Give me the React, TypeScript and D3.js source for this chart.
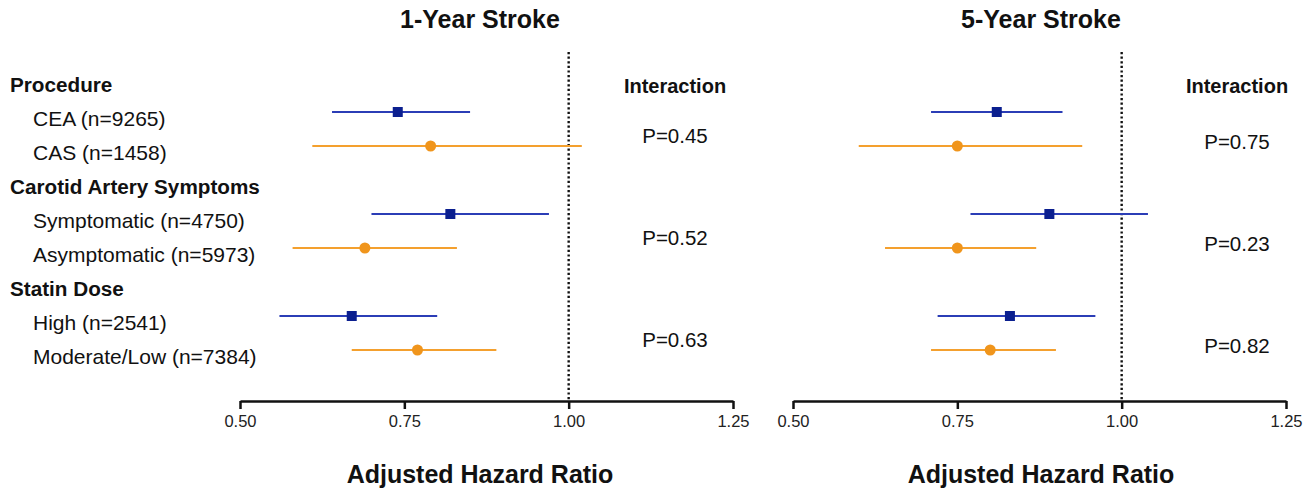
import React, { useEffect, useRef } from 'react';
import * as d3 from 'd3';

// subgroup rows (headers + members), top to bottom
const groupHeaders = ['Procedure', 'Carotid Artery Symptoms', 'Statin Dose'];
const subgroups = [
  'CEA (n=9265)',
  'CAS (n=1458)',
  'Symptomatic (n=4750)',
  'Asymptomatic (n=5973)',
  'High (n=2541)',
  'Moderate/Low (n=7384)',
];

// 1-year stroke
const oneYearHR = [0.74, 0.79, 0.82, 0.69, 0.67, 0.77];
const oneYearLow = [0.64, 0.61, 0.70, 0.58, 0.56, 0.67];
const oneYearHigh = [0.85, 1.02, 0.97, 0.83, 0.80, 0.89];
const oneYearP = ['P=0.45', 'P=0.52', 'P=0.63'];

// 5-year stroke
const fiveYearHR = [0.81, 0.75, 0.89, 0.75, 0.83, 0.80];
const fiveYearLow = [0.71, 0.60, 0.77, 0.64, 0.72, 0.71];
const fiveYearHigh = [0.91, 0.94, 1.04, 0.87, 0.96, 0.90];
const fiveYearP = ['P=0.75', 'P=0.23', 'P=0.82'];

const xTicks = [0.5, 0.75, 1.0, 1.25];

const W = 1315;
const H = 491;
const FONT = '"Liberation Sans", Arial, Helvetica, sans-serif';

const BLUE_LINE = '#2b3db6';
const BLUE_MARK = '#0b1f8f';
const ORANGE_LINE = '#f4a02e';
const ORANGE_MARK = '#f0951c';

export default function App() {
  const ref = useRef<SVGSVGElement | null>(null);

  useEffect(() => {
    const svg = d3.select(ref.current);
    svg.selectAll('*').remove();

    // rows: header, a, b, header, a, b, header, a, b
    const rowIds = d3.range(9);
    const y = d3.scalePoint<number>().domain(rowIds).range([78, 350]);
    const subRow = (i: number) => Math.floor(i / 2) * 3 + 1 + (i % 2);

    // left-side labels
    const labels = svg.append('g').attr('font-family', FONT).attr('fill', '#111');
    groupHeaders.forEach((g, i) => {
      labels.append('text')
        .attr('x', 10)
        .attr('y', y(i * 3)! + 14)
        .attr('font-size', 20.7)
        .attr('font-weight', 'bold')
        .text(g);
    });
    subgroups.forEach((s, i) => {
      labels.append('text')
        .attr('x', 33)
        .attr('y', y(subRow(i))! + 14)
        .attr('font-size', 21)
        .text(s);
    });

    const panels = [
      { title: '1-Year Stroke', range: [240, 733], center: 480, pX: 675, pOff: 14,
        hr: oneYearHR, lo: oneYearLow, hi: oneYearHigh, p: oneYearP },
      { title: '5-Year Stroke', range: [793, 1286], center: 1041, pX: 1237, pOff: 20,
        hr: fiveYearHR, lo: fiveYearLow, hi: fiveYearHigh, p: fiveYearP },
    ];

    panels.forEach(panel => {
      const x = d3.scaleLinear().domain([0.5, 1.25]).range(panel.range);
      const g = svg.append('g');
      const axisY = 401;

      // title
      g.append('text')
        .attr('x', panel.center)
        .attr('y', 28)
        .attr('text-anchor', 'middle')
        .attr('font-family', FONT)
        .attr('font-size', 25)
        .attr('font-weight', 'bold')
        .attr('fill', '#111')
        .text(panel.title);

      // reference line at HR = 1
      g.append('line')
        .attr('x1', x(1)).attr('x2', x(1))
        .attr('y1', 52).attr('y2', axisY)
        .attr('stroke', '#111')
        .attr('stroke-width', 2.4)
        .attr('stroke-dasharray', '2.2,2.4');

      // axis
      const axis = g.append('g')
        .attr('transform', `translate(0,${axisY})`)
        .call(d3.axisBottom(x).tickValues(xTicks).tickFormat(d3.format('.2f')).tickSizeInner(8).tickSizeOuter(0).tickPadding(6));
      axis.select('.domain').attr('stroke', '#111').attr('stroke-width', 2.5);
      axis.selectAll('.tick line').attr('stroke', '#111').attr('stroke-width', 2.5);
      axis.selectAll('.tick text')
        .attr('font-family', FONT)
        .attr('font-size', 16.5)
        .attr('fill', '#222');

      g.append('text')
        .attr('x', panel.center)
        .attr('y', 483)
        .attr('text-anchor', 'middle')
        .attr('font-family', FONT)
        .attr('font-size', 25)
        .attr('font-weight', 'bold')
        .attr('fill', '#111')
        .text('Adjusted Hazard Ratio');

      // interaction p-values
      g.append('text')
        .attr('x', panel.pX)
        .attr('y', 93)
        .attr('text-anchor', 'middle')
        .attr('font-family', FONT)
        .attr('font-size', 20)
        .attr('font-weight', 'bold')
        .attr('fill', '#111')
        .text('Interaction');
      panel.p.forEach((p, i) => {
        const mid = (y(i * 3 + 1)! + y(i * 3 + 2)!) / 2;
        g.append('text')
          .attr('x', panel.pX)
          .attr('y', mid + panel.pOff)
          .attr('text-anchor', 'middle')
          .attr('font-family', FONT)
          .attr('font-size', 20.5)
          .attr('fill', '#111')
          .text(p);
      });

      // CI lines and markers
      panel.hr.forEach((v, i) => {
        const cy = y(subRow(i))!;
        const first = i % 2 === 0;
        g.append('line')
          .attr('x1', x(panel.lo[i])).attr('x2', x(panel.hi[i]))
          .attr('y1', cy).attr('y2', cy)
          .attr('stroke', first ? BLUE_LINE : ORANGE_LINE)
          .attr('stroke-width', 2);
        if (first) {
          g.append('rect')
            .attr('x', x(v) - 5).attr('y', cy - 5)
            .attr('width', 10).attr('height', 10)
            .attr('fill', BLUE_MARK);
        } else {
          g.append('circle')
            .attr('cx', x(v)).attr('cy', cy)
            .attr('r', 5.5)
            .attr('fill', ORANGE_MARK);
        }
      });
    });
  }, []);

  return (
    <svg
      ref={ref}
      width={W}
      height={H}
      style={{ position: 'absolute', left: 0, top: 0, background: '#fff' }}
    />
  );
}
